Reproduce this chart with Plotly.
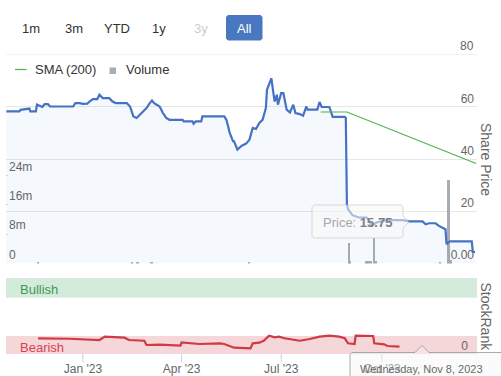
import plotly.graph_objects as go

W, H = 501, 376

# ---------------- data ----------------
price_dates = [
    "2022-10-23", "2022-11-04", "2022-11-05", "2022-11-13", "2022-11-14", "2022-11-19",
    "2022-11-20", "2022-11-25", "2022-11-27", "2022-11-30", "2022-12-02", "2022-12-23",
    "2022-12-25", "2022-12-29", "2023-01-01", "2023-01-05", "2023-01-07", "2023-01-10",
    "2023-01-14", "2023-01-16", "2023-01-19", "2023-01-25", "2023-01-28", "2023-01-31",
    "2023-02-09", "2023-02-10", "2023-02-13", "2023-02-16", "2023-02-19", "2023-02-22",
    "2023-02-25", "2023-02-28", "2023-03-03", "2023-03-05", "2023-03-07", "2023-03-12",
    "2023-03-15", "2023-03-18", "2023-03-21", "2023-04-02", "2023-04-03", "2023-04-11",
    "2023-04-12", "2023-04-14", "2023-04-19", "2023-04-20", "2023-05-10", "2023-05-12",
    "2023-05-15", "2023-05-18", "2023-05-19", "2023-05-22", "2023-05-26", "2023-05-30",
    "2023-06-02", "2023-06-05", "2023-06-08", "2023-06-11", "2023-06-14", "2023-06-17",
    "2023-06-18", "2023-06-22", "2023-06-25", "2023-06-27", "2023-06-28", "2023-07-01",
    "2023-07-03", "2023-07-06", "2023-07-09", "2023-07-12", "2023-07-14", "2023-07-18",
    "2023-07-21", "2023-07-24", "2023-07-25", "2023-07-29", "2023-08-03", "2023-08-05",
    "2023-08-07", "2023-08-14", "2023-08-16", "2023-08-17", "2023-08-28", "2023-08-29",
    "2023-08-30", "2023-08-31", "2023-09-04", "2023-09-10", "2023-09-17", "2023-09-22",
    "2023-09-26", "2023-10-01", "2023-10-05", "2023-10-20", "2023-10-26", "2023-11-07",
    "2023-11-10", "2023-11-13", "2023-11-19", "2023-11-22", "2023-11-27", "2023-11-28",
    "2023-11-29", "2023-12-02", "2023-12-22", "2023-12-23", "2023-12-25",
]
price_values = [
    58.2, 58.2, 58.8, 59.3, 58.2, 58.2,
    60.8, 59.9, 61.0, 61.0, 60.1, 60.1,
    61.4, 61.4, 61.1, 61.2, 62.0, 62.9,
    62.9, 64.6, 63.3, 63.3, 62.0, 61.4,
    61.4, 61.4, 60.1, 56.3, 55.7, 57.0,
    58.2, 59.5, 61.4, 62.4, 61.4, 60.1,
    57.6, 55.7, 55.0, 55.0, 54.4, 54.4,
    53.5, 54.4, 54.4, 56.3, 56.3, 55.0,
    50.0, 46.8, 46.8, 43.6, 45.1, 45.9,
    47.4, 51.9, 51.5, 53.8, 55.0, 59.5,
    66.5, 70.9, 62.0, 64.6, 60.8, 65.2,
    65.2, 58.9, 57.8, 60.8, 57.6, 57.2,
    56.6, 60.1, 58.9, 58.9, 58.9, 61.8,
    59.9, 59.9, 57.6, 56.1, 56.1, 55.7,
    22.7, 20.8, 18.5, 17.6, 17.6, 14.4,
    15.7, 16.3, 16.6, 16.6, 16.1, 16.1,
    15.0, 15.4, 15.4, 14.4, 13.1, 13.1,
    7.4, 8.5, 8.5, 4.5, 4.3,
]

sma_dates = ["2023-08-06", "2023-08-30", "2023-12-26"]
sma_values = [58.0, 58.0, 38.3]

volume_dates = [
    "2022-11-21", "2023-02-15", "2023-02-20", "2023-03-05", "2023-06-02",
    "2023-09-01", "2023-09-02", "2023-09-17", "2023-09-19", "2023-09-21",
    "2023-09-24", "2023-09-26", "2023-11-23", "2023-12-01", "2023-12-03",
]
volume_values = [
    0.3e6, 0.4e6, 0.5e6, 0.3e6, 0.3e6,
    5.7e6, 0.9e6, 0.7e6, 0.8e6, 0.8e6,
    7.1e6, 0.8e6, 0.5e6, 22.9e6, 1.0e6,
]

rank_dates = [
    "2022-11-21", "2022-12-20", "2023-01-16", "2023-01-21", "2023-02-08", "2023-02-12",
    "2023-02-26", "2023-02-28", "2023-03-12", "2023-03-21", "2023-03-31", "2023-04-01",
    "2023-04-17", "2023-05-06", "2023-05-10", "2023-05-19", "2023-06-02", "2023-06-03",
    "2023-06-05", "2023-06-11", "2023-06-15", "2023-06-20", "2023-06-25", "2023-06-29",
    "2023-07-04", "2023-07-09", "2023-07-18", "2023-07-27", "2023-08-05", "2023-08-14",
    "2023-08-23", "2023-08-28", "2023-08-31", "2023-09-06", "2023-09-07", "2023-09-23",
    "2023-09-24", "2023-10-03", "2023-10-06", "2023-10-17",
]
rank_values = [
    21.0, 20.4, 18.7, 23.1, 21.8, 18.7,
    17.8, 12.2, 12.7, 11.8, 11.3, 15.7,
    13.5, 14.4, 13.5, 8.7, 7.9, 7.9,
    14.4, 15.2, 17.8, 24.4, 22.3, 23.1,
    21.0, 20.1, 17.8, 20.1, 23.1, 24.4,
    23.1, 21.0, 14.4, 13.5, 24.4, 24.0,
    14.4, 13.1, 10.9, 10.0,
]

price_ticks = [0, 20, 40, 60]
price_tick_labels = ["0.00", "20", "40", "60"]
price_top_tick = 80
price_top_label = "80"
volume_ticks = [0, 8e6, 16e6, 24e6]
volume_tick_labels = ["0", "8m", "16m", "24m"]
rank_ticks = [0]
rank_tick_labels = ["0"]
x_ticks = ["2023-01-01", "2023-04-01", "2023-07-01", "2023-10-01"]
x_tick_labels = ["Jan '23", "Apr '23", "Jul '23", "Oct '23"]
range_buttons = ["1m", "3m", "YTD", "1y", "3y", "All"]
band_labels = ["Bullish", "Bearish"]
tooltip_price = "15.75"
tooltip_date = "Wednesday, Nov 8, 2023"

# ---------------- helpers for pixel placement ----------------
FONT = "Liberation Sans, Arial, Helvetica, sans-serif"


def X(px):
    return px / W


def Y(py):
    return 1 - py / H


def path(points):
    s = "M " + " L ".join(f"{X(a):.5f},{Y(b):.5f}" for a, b in points) + " Z"
    return s


fig = go.Figure()

fig.add_trace(go.Bar(
    x=volume_dates, y=volume_values, xaxis="x", yaxis="y",
    marker=dict(color="#a9acb5", line=dict(width=0)),
    width=1.8 * 86400000, name="Volume", showlegend=False, hoverinfo="skip",
))
fig.add_trace(go.Scatter(
    x=price_dates, y=price_values, xaxis="x", yaxis="y2", mode="lines",
    line=dict(color="#4472c4", width=2.2), fill="tozeroy",
    fillcolor="rgba(68,114,196,0.05)", name="Price", showlegend=False,
))
fig.add_trace(go.Scatter(
    x=sma_dates, y=sma_values, xaxis="x", yaxis="y2", mode="lines",
    line=dict(color="#4fb04f", width=1.2), name="SMA (200)", showlegend=False,
))
fig.add_trace(go.Scatter(
    x=rank_dates, y=rank_values, xaxis="x", yaxis="y3", mode="lines",
    line=dict(color="#d13a42", width=2.2), name="StockRank", showlegend=False,
))

tickfont = dict(family=FONT, size=12, color="#666666")

fig.update_layout(
    width=W, height=H, autosize=False,
    margin=dict(l=0, r=0, t=0, b=0, pad=0),
    paper_bgcolor="white", plot_bgcolor="rgba(0,0,0,0)",
    bargap=0,
    font=dict(family=FONT, size=12, color="#333333"),
    showlegend=False,
    xaxis=dict(
        domain=[X(6), X(477)], anchor="y3", type="date",
        range=["2022-10-22 17:00", "2023-12-26 19:00"],
        tickvals=x_ticks, ticktext=x_tick_labels, tickfont=tickfont,
        ticks="outside", ticklen=3, tickcolor="#ccd6eb", tickwidth=1,
        showgrid=False, zeroline=False, showline=False, automargin=False,
    ),
    yaxis=dict(
        domain=[Y(263.5), Y(54.5)], anchor="x", side="left",
        range=[0, 57e6], tickvals=volume_ticks, ticktext=volume_tick_labels,
        ticklabelposition="inside top", tickfont=tickfont,
        ticks="inside", ticklen=2, tickcolor="#ccd6eb",
        showgrid=False, zeroline=False, showline=False, automargin=False,
    ),
    yaxis2=dict(
        overlaying="y", anchor="x", side="right",
        range=[0, 80], tickvals=price_ticks, ticktext=price_tick_labels,
        ticklabelposition="inside top", tickfont=tickfont,
        showgrid=True, gridcolor="#e6e6e6", gridwidth=1,
        zeroline=False, showline=False, automargin=False,
    ),
    yaxis3=dict(
        domain=[Y(354.3), Y(278)], anchor="x", side="right",
        range=[0, 100], tickvals=rank_ticks, ticktext=rank_tick_labels,
        ticklabelposition="inside top", tickfont=tickfont, ticklabelstandoff=6,
        showgrid=False, zeroline=False, showline=False, automargin=False,
    ),
)

shapes = []
# top price gridline (at the top edge of the pane)
shapes.append(dict(type="line", xref="x domain", yref="y2", x0=0, x1=1,
                   y0=price_top_tick, y1=price_top_tick,
                   line=dict(color="#e6e6e6", width=1), layer="below"))
# longer x tick marks
for t in x_ticks:
    shapes.append(dict(type="line", xref="x", yref="paper", x0=t, x1=t,
                       y0=Y(354.3), y1=Y(362.5),
                       line=dict(color="#ccd6eb", width=1)))
# sentiment bands
shapes.append(dict(type="rect", xref="x domain", yref="y3", x0=0, x1=1, y0=74, y1=100,
                   fillcolor="#d4eadb", line=dict(width=0), layer="below"))
shapes.append(dict(type="rect", xref="x domain", yref="y3", x0=0, x1=1, y0=0, y1=24,
                   fillcolor="#f5d6d9", line=dict(width=0), layer="below"))
# selected range button
shapes.append(dict(type="path", xref="paper", yref="paper",
                   path=path([(228, 15), (260.5, 15), (262.5, 17), (262.5, 38.5),
                              (260.5, 40.5), (228, 40.5), (226, 38.5), (226, 17)]),
                   fillcolor="#4a78c0", line=dict(width=0)))
# legend symbols
shapes.append(dict(type="line", xref="paper", yref="paper", x0=X(15), x1=X(26.5),
                   y0=Y(69.5), y1=Y(69.5), line=dict(color="#4fb04f", width=1.2)))
shapes.append(dict(type="rect", xref="paper", yref="paper", x0=X(109.5), x1=X(116),
                   y0=Y(74), y1=Y(67.5), fillcolor="#a9acb5", line=dict(width=0)))
# price tooltip
shapes.append(dict(type="path", xref="paper", yref="paper",
                   path=path([(314, 205), (401, 205), (403, 207), (403, 216), (409, 222),
                              (403, 228), (403, 236), (401, 238), (314, 238), (312, 236),
                              (312, 207)]),
                   fillcolor="rgba(247,247,247,0.55)",
                   line=dict(color="rgba(190,190,190,0.55)", width=1)))
# date tooltip
shapes.append(dict(type="path", xref="paper", yref="paper",
                   path=path([(352, 352.5), (415, 352.5), (422, 345.5), (429, 352.5),
                              (530, 352.5), (530, 390), (350, 390), (350, 354.5)]),
                   fillcolor="rgba(247,247,247,0.45)",
                   line=dict(color="rgba(150,150,150,0.8)", width=1)))
fig.update_layout(shapes=shapes)

ann = []
button_x = [31, 73.5, 116.5, 159, 201, 244.5]
for label, bx in zip(range_buttons, button_x):
    color = "#333333"
    if label == "3y":
        color = "#cccccc"
    if label == "All":
        color = "#ffffff"
    ann.append(dict(text=label, x=X(bx), y=Y(28.5), xref="paper", yref="paper",
                    showarrow=False, xanchor="center", yanchor="middle",
                    font=dict(family=FONT, size=13, color=color)))
# top price tick label (sits on the pane edge)
ann.append(dict(text=price_top_label, x=1, y=price_top_tick, xref="x domain", yref="y2",
                showarrow=False, xanchor="right", yanchor="bottom", xshift=-1, yshift=-1,
                font=tickfont))
# legend texts
ann.append(dict(text="SMA (200)", x=X(32.5), y=Y(69.5), xref="paper", yref="paper",
                showarrow=False, xanchor="left", yanchor="middle",
                font=dict(family=FONT, size=13, color="#333333")))
ann.append(dict(text="Volume", x=X(124), y=Y(69.5), xref="paper", yref="paper",
                showarrow=False, xanchor="left", yanchor="middle",
                font=dict(family=FONT, size=13, color="#333333")))
# band labels
ann.append(dict(text=band_labels[0], x=X(17.5), y=Y(289), xref="paper", yref="paper",
                showarrow=False, xanchor="left", yanchor="middle",
                font=dict(family=FONT, size=13, color="#3c9a50")))
ann.append(dict(text=band_labels[1], x=X(17.5), y=Y(347), xref="paper", yref="paper",
                showarrow=False, xanchor="left", yanchor="middle",
                font=dict(family=FONT, size=13, color="#d8434e")))
# axis titles
ann.append(dict(text="Share Price", x=X(486), y=Y(159), xref="paper", yref="paper",
                showarrow=False, textangle=90, xanchor="center", yanchor="middle",
                font=dict(family=FONT, size=14, color="#666666")))
ann.append(dict(text="StockRank", x=X(486), y=Y(316.5), xref="paper", yref="paper",
                showarrow=False, textangle=90, xanchor="center", yanchor="middle",
                font=dict(family=FONT, size=14, color="#666666")))
# tooltip texts
ann.append(dict(text=f"<span style='color:#a8a8a8'>Price: </span><b>{tooltip_price}</b>",
                x=X(320.5), y=Y(222.5), xref="paper", yref="paper",
                showarrow=False, xanchor="left", yanchor="middle",
                font=dict(family=FONT, size=13, color="#808080")))
ann.append(dict(text=tooltip_date, x=X(358), y=Y(369), xref="paper", yref="paper",
                showarrow=False, xanchor="left", yanchor="middle",
                font=dict(family=FONT, size=11, color="#6a6a6a")))
fig.update_layout(annotations=ann)

fig.write_html(
    "out.html",
    config={"displayModeBar": False},
    post_script="document.body.style.margin='0';document.body.style.overflow='hidden';",
)
